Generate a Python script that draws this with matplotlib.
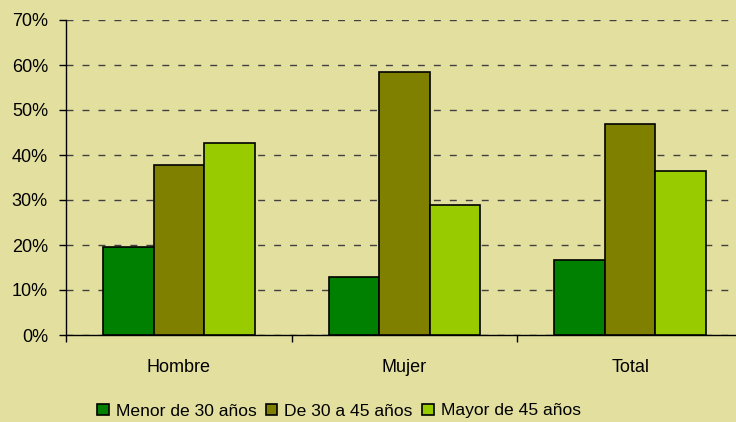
import numpy as np
import matplotlib.pyplot as plt
from matplotlib.ticker import PercentFormatter

# shares by age group (%)
groups = ["Hombre", "Mujer", "Total"]
menor_30 = [19.6, 13.0, 16.7]
de_30_45 = [37.8, 58.4, 47.0]
mayor_45 = [42.7, 29.0, 36.4]
series_names = ["Menor de 30 años", "De 30 a 45 años", "Mayor de 45 años"]
colors = ["#008000", "#808000", "#99CC00"]
bg = "#E3E09F"

plt.rcParams["font.family"] = ["Liberation Sans", "DejaVu Sans"]

fig = plt.figure(figsize=(7.36, 4.22), dpi=100, facecolor=bg)
ax = fig.add_axes([66 / 736, 1 - 335 / 422, 677 / 736, 315 / 422])
ax.set_facecolor(bg)

x = np.arange(len(groups))
w = 0.224
for i, (vals, name, c) in enumerate(zip([menor_30, de_30_45, mayor_45], series_names, colors)):
    ax.bar(x + (i - 1) * w, vals, w, color=c, edgecolor="black", linewidth=1.2,
           label=name, zorder=3)

ax.set_xlim(-0.5, 2.5)
ax.set_ylim(0, 70)
ax.set_yticks(np.arange(0, 71, 10))
ax.yaxis.set_major_formatter(PercentFormatter(decimals=0))
ax.grid(axis="y", color="#404040", linestyle=(0, (5, 6.5)), linewidth=1.0, zorder=1)

ax.set_xticks(x)
ax.set_xticklabels(groups)
ax.set_xticks([-0.5, 0.5, 1.5, 2.5], minor=True)
ax.tick_params(axis="x", which="major", length=0, pad=17, labelsize=13)
ax.tick_params(axis="x", which="minor", length=5, width=1, direction="out")
ax.tick_params(axis="y", length=5, width=1, pad=8, labelsize=13)

for side in ["top", "right"]:
    ax.spines[side].set_visible(False)
ax.spines["left"].set_linewidth(1)
ax.spines["bottom"].set_linewidth(1)

leg = fig.legend(loc="center", bbox_to_anchor=(339 / 736, 1 - 411 / 422), ncol=3,
                 frameon=False, fontsize=12.6, handlelength=0.65, handleheight=0.65,
                 handletextpad=0.4, columnspacing=0.55, borderaxespad=0)

fig.savefig("out.png", dpi=100, facecolor=bg)
